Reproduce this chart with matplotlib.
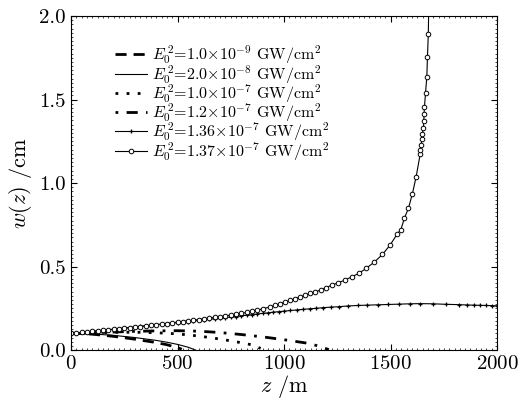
import matplotlib
matplotlib.use('Agg')
import matplotlib.pyplot as plt
from matplotlib.ticker import MultipleLocator

plt.rcParams['font.family'] = ['cmr10', 'DejaVu Serif']
plt.rcParams['mathtext.fontset'] = 'cm'
plt.rcParams['axes.formatter.use_mathtext'] = True

# E0^2 = 1.0e-9
z_a = [0, 50, 100, 150, 200, 250, 300, 350, 400, 450, 500, 520]
w_a = [0.100, 0.099, 0.095, 0.089, 0.082, 0.074, 0.065, 0.055, 0.045, 0.032, 0.015, 0.005]

# E0^2 = 2.0e-8
z_b = [0, 100, 200, 300, 400, 450, 500, 550, 585]
w_b = [0.100, 0.097, 0.088, 0.075, 0.058, 0.047, 0.034, 0.017, 0.0]

# E0^2 = 1.0e-7
z_c = [0, 100, 200, 300, 400, 500, 600, 700, 800, 850, 890]
w_c = [0.100, 0.103, 0.106, 0.107, 0.104, 0.097, 0.084, 0.066, 0.044, 0.031, 0.010]

# E0^2 = 1.2e-7
z_d = [0, 100, 200, 300, 400, 500, 600, 700, 800, 900, 1000, 1100, 1150, 1210]
w_d = [0.100, 0.104, 0.108, 0.112, 0.115, 0.116, 0.113, 0.105, 0.093, 0.079, 0.062, 0.043, 0.028, 0.003]

# E0^2 = 1.36e-7  (+ markers)
z_e = [0, 25, 50, 75, 100, 125, 150, 175, 200, 225, 250, 275, 300, 325, 350, 375,
       400, 425, 450, 475, 500, 525, 550, 575, 600, 625, 650, 675, 700, 725, 750,
       775, 800, 825, 850, 875, 900, 925, 950, 975, 1000, 1030, 1060, 1090, 1120,
       1150, 1185, 1220, 1260, 1300, 1345, 1390, 1440, 1490, 1540, 1590, 1640,
       1700, 1760, 1820, 1860, 1890, 1920, 1950, 1975, 2000]
w_e = [0.100, 0.103, 0.106, 0.109, 0.112, 0.115, 0.118, 0.122, 0.125, 0.128, 0.132,
       0.135, 0.138, 0.142, 0.145, 0.148, 0.152, 0.155, 0.158, 0.161, 0.165, 0.168,
       0.171, 0.174, 0.178, 0.181, 0.184, 0.188, 0.191, 0.194, 0.198, 0.201, 0.205,
       0.209, 0.212, 0.216, 0.220, 0.223, 0.227, 0.230, 0.233, 0.237, 0.240, 0.244,
       0.247, 0.250, 0.254, 0.257, 0.260, 0.264, 0.267, 0.269, 0.271, 0.273, 0.275,
       0.277, 0.278, 0.277, 0.274, 0.272, 0.270, 0.269, 0.268, 0.267, 0.266, 0.265]

# E0^2 = 1.37e-7  (o markers)
z_f = [0, 25, 50, 75, 100, 125, 150, 175, 200, 225, 250, 275, 300, 325, 350, 375,
       400, 425, 450, 475, 500, 525, 550, 575, 600, 625, 650, 675, 700, 725, 750,
       775, 800, 825, 848, 872, 903, 934, 958, 981, 1005, 1028, 1052, 1075, 1099,
       1122, 1146, 1172, 1197, 1224, 1255, 1286, 1318, 1351, 1385, 1424, 1462, 1498,
       1531, 1548, 1565, 1584, 1602, 1620, 1639, 1640, 1643, 1647, 1649, 1654, 1656,
       1657, 1659, 1664, 1670, 1673, 1677, 1681]
w_f = [0.100, 0.103, 0.106, 0.109, 0.112, 0.115, 0.118, 0.121, 0.124, 0.128, 0.131,
       0.134, 0.138, 0.141, 0.145, 0.148, 0.152, 0.155, 0.159, 0.163, 0.167, 0.171,
       0.175, 0.179, 0.183, 0.187, 0.191, 0.196, 0.200, 0.205, 0.210, 0.215, 0.220,
       0.225, 0.231, 0.238, 0.248, 0.258, 0.267, 0.277, 0.287, 0.297, 0.307, 0.318,
       0.328, 0.339, 0.349, 0.359, 0.373, 0.389, 0.403, 0.419, 0.439, 0.459, 0.489,
       0.527, 0.573, 0.629, 0.695, 0.720, 0.790, 0.850, 0.934, 1.038, 1.174, 1.198,
       1.228, 1.263, 1.293, 1.331, 1.371, 1.413, 1.455, 1.541, 1.633, 1.753, 1.892,
       2.200]

labels = [r'$E_0^{\,2}$=1.0$\times$10$^{-9}$ GW/cm$^2$',
          r'$E_0^{\,2}$=2.0$\times$10$^{-8}$ GW/cm$^2$',
          r'$E_0^{\,2}$=1.0$\times$10$^{-7}$ GW/cm$^2$',
          r'$E_0^{\,2}$=1.2$\times$10$^{-7}$ GW/cm$^2$',
          r'$E_0^{\,2}$=1.36$\times$10$^{-7}$ GW/cm$^2$',
          r'$E_0^{\,2}$=1.37$\times$10$^{-7}$ GW/cm$^2$']

fig = plt.figure(figsize=(5.2, 4.01), dpi=100)
ax = fig.add_axes([0.1365, 0.127, 0.8195, 0.833])

ax.plot(z_a, w_a, color='black', lw=2.0, dashes=(4, 2.5), label=labels[0])
ax.plot(z_b, w_b, color='black', lw=0.8, label=labels[1])
ax.plot(z_c, w_c, color='black', lw=2.0, dashes=(1, 3), label=labels[2])
ax.plot(z_d, w_d, color='black', lw=2.0, dashes=(1, 3, 4, 3), label=labels[3])
ax.plot(z_e, w_e, color='black', lw=0.8, marker='+', ms=3.5, mew=0.9, label=labels[4])
ax.plot(z_f, w_f, color='black', lw=0.8, marker='o', ms=3.3, mew=0.7,
        mfc='white', label=labels[5])

ax.set_xlim(0, 2000)
ax.set_ylim(0, 2.0)
ax.xaxis.set_major_locator(MultipleLocator(500))
ax.yaxis.set_major_locator(MultipleLocator(0.5))
ax.xaxis.set_minor_locator(MultipleLocator(25))
ax.yaxis.set_minor_locator(MultipleLocator(0.025))
ax.yaxis.set_major_formatter(matplotlib.ticker.FormatStrFormatter('%.1f'))
ax.tick_params(which='both', direction='in', top=True, right=True, labelsize=15)
ax.tick_params(which='major', length=4, width=0.8)
ax.tick_params(which='minor', length=1.5, width=0.5)
for s in ax.spines.values():
    s.set_linewidth(0.8)

ax.set_xlabel(r'$z$ /m', fontsize=16, labelpad=0)
ax.set_ylabel(r'$w(z)$ /cm', fontsize=16, labelpad=4)

ax.legend(loc='upper left', bbox_to_anchor=(0.07, 0.96), frameon=False,
          fontsize=11.5, handlelength=2.0, handletextpad=0.3, labelspacing=-0.2)

fig.savefig('out.png', dpi=100)
